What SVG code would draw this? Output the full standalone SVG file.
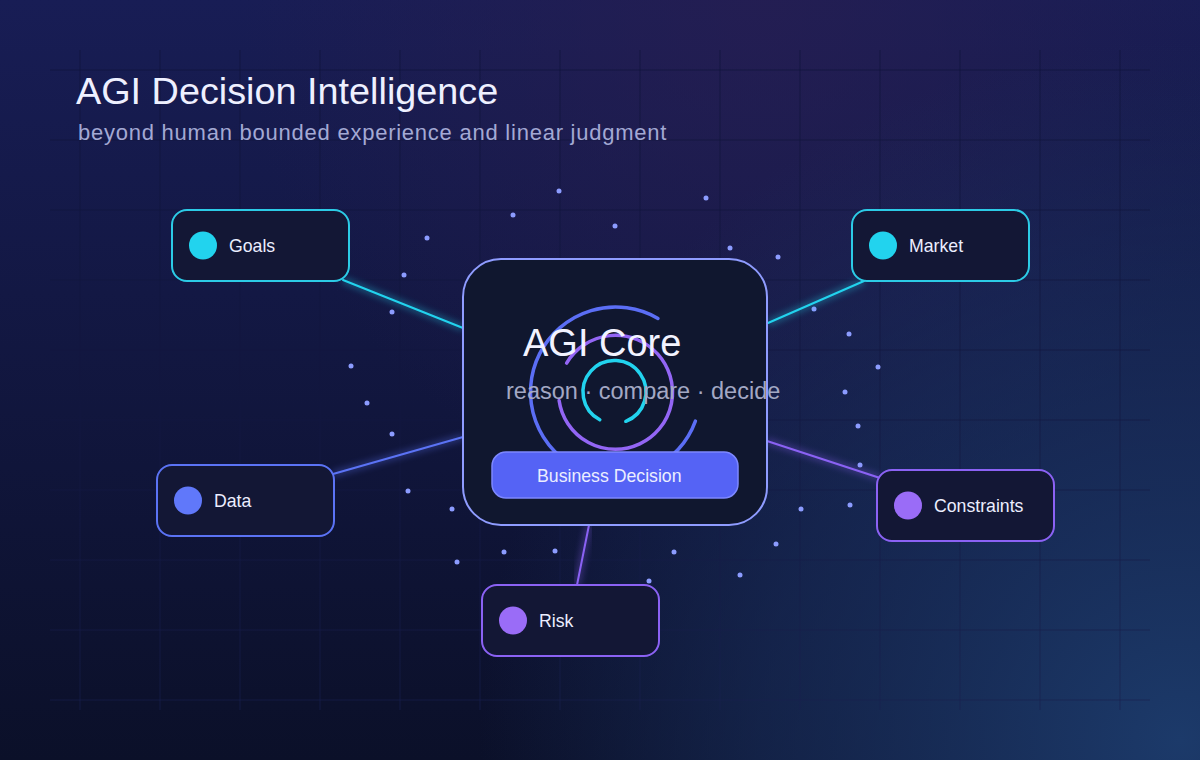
<svg xmlns="http://www.w3.org/2000/svg" width="1200" height="760" viewBox="0 0 1200 760">
  <defs>
    <linearGradient id="bgBase" x1="0" y1="0" x2="0" y2="1">
      <stop offset="0" stop-color="#181d55"/>
      <stop offset="1" stop-color="#0b1029"/>
    </linearGradient>
    <radialGradient id="glowTop" cx="760" cy="0" r="520" gradientUnits="userSpaceOnUse">
      <stop offset="0" stop-color="#271e52" stop-opacity="0.75"/>
      <stop offset="1" stop-color="#271e52" stop-opacity="0"/>
    </radialGradient>
    <radialGradient id="glowBR" cx="1180" cy="740" r="700" gradientUnits="userSpaceOnUse">
      <stop offset="0" stop-color="#1c3a6a" stop-opacity="1"/>
      <stop offset="0.6" stop-color="#1a3160" stop-opacity="0.55"/>
      <stop offset="1" stop-color="#1a3160" stop-opacity="0"/>
    </radialGradient>
    <linearGradient id="gridStroke" gradientUnits="userSpaceOnUse" x1="0" y1="0" x2="0" y2="760">
      <stop offset="0" stop-color="#0e1238"/>
      <stop offset="0.5" stop-color="#12173f"/>
      <stop offset="1" stop-color="#1a2250"/>
    </linearGradient>
    <filter id="blur" x="-20%" y="-20%" width="140%" height="140%">
      <feGaussianBlur stdDeviation="3"/>
    </filter>
    <style>
      .grid line { stroke: url(#gridStroke); stroke-width: 1; opacity: 0.65; }
      .node rect { fill: #131735; stroke-width: 2; }
      .lbl { font-family: "Liberation Sans", Arial, sans-serif; font-size: 17.7px; fill: #eceeff; }
      .dot { fill: #8c9cff; }
      .conn { fill: none; stroke-width: 2; stroke-linecap: round; }
      .connGlow { fill: none; stroke-width: 7; opacity: 0.3; filter: url(#blur); }
      .cyan { stroke: #22d3ee; }
      .blue { stroke: #5b73f5; }
      .purple { stroke: #8b62f4; }
    </style>
  </defs>

  <!-- background -->
  <rect x="0" y="0" width="1200" height="760" fill="url(#bgBase)"/>
  <rect x="0" y="0" width="1200" height="760" fill="url(#glowTop)"/>
  <rect x="0" y="0" width="1200" height="760" fill="url(#glowBR)"/>

  <!-- grid -->
  <g class="grid">
    <line x1="80" y1="50" x2="80" y2="710"/>
    <line x1="160" y1="50" x2="160" y2="710"/>
    <line x1="240" y1="50" x2="240" y2="710"/>
    <line x1="320" y1="50" x2="320" y2="710"/>
    <line x1="400" y1="50" x2="400" y2="710"/>
    <line x1="480" y1="50" x2="480" y2="710"/>
    <line x1="560" y1="50" x2="560" y2="710"/>
    <line x1="640" y1="50" x2="640" y2="710"/>
    <line x1="720" y1="50" x2="720" y2="710"/>
    <line x1="800" y1="50" x2="800" y2="710"/>
    <line x1="880" y1="50" x2="880" y2="710"/>
    <line x1="960" y1="50" x2="960" y2="710"/>
    <line x1="1040" y1="50" x2="1040" y2="710"/>
    <line x1="1120" y1="50" x2="1120" y2="710"/>
    <line x1="50" y1="70" x2="1150" y2="70"/>
    <line x1="50" y1="140" x2="1150" y2="140"/>
    <line x1="50" y1="210" x2="1150" y2="210"/>
    <line x1="50" y1="280" x2="1150" y2="280"/>
    <line x1="50" y1="350" x2="1150" y2="350"/>
    <line x1="50" y1="420" x2="1150" y2="420"/>
    <line x1="50" y1="490" x2="1150" y2="490"/>
    <line x1="50" y1="560" x2="1150" y2="560"/>
    <line x1="50" y1="630" x2="1150" y2="630"/>
    <line x1="50" y1="700" x2="1150" y2="700"/>
  </g>

  <!-- titles -->
  <text x="76" y="104" font-family="Liberation Sans, Arial, sans-serif" font-size="37.8" fill="#eef0ff">AGI Decision Intelligence</text>
  <text x="78" y="140" font-family="Liberation Sans, Arial, sans-serif" font-size="22" letter-spacing="0.76" fill="#a3a9d4">beyond human bounded experience and linear judgment</text>

  <!-- particles -->
  <g id="particles">
    <circle class="dot" cx="559" cy="191" r="2.5"/>
    <circle class="dot" cx="706" cy="198" r="2.5"/>
    <circle class="dot" cx="513" cy="215" r="2.5"/>
    <circle class="dot" cx="615" cy="226" r="2.5"/>
    <circle class="dot" cx="427" cy="238" r="2.5"/>
    <circle class="dot" cx="730" cy="248" r="2.5"/>
    <circle class="dot" cx="778" cy="257" r="2.5"/>
    <circle class="dot" cx="404" cy="275" r="2.5"/>
    <circle class="dot" cx="392" cy="312" r="2.5"/>
    <circle class="dot" cx="351" cy="366" r="2.5"/>
    <circle class="dot" cx="367" cy="403" r="2.5"/>
    <circle class="dot" cx="392" cy="434" r="2.5"/>
    <circle class="dot" cx="408" cy="491" r="2.5"/>
    <circle class="dot" cx="452" cy="509" r="2.5"/>
    <circle class="dot" cx="457" cy="562" r="2.5"/>
    <circle class="dot" cx="814" cy="309" r="2.5"/>
    <circle class="dot" cx="849" cy="334" r="2.5"/>
    <circle class="dot" cx="878" cy="367" r="2.5"/>
    <circle class="dot" cx="845" cy="392" r="2.5"/>
    <circle class="dot" cx="858" cy="426" r="2.5"/>
    <circle class="dot" cx="860" cy="465" r="2.5"/>
    <circle class="dot" cx="850" cy="505" r="2.5"/>
    <circle class="dot" cx="801" cy="509" r="2.5"/>
    <circle class="dot" cx="776" cy="544" r="2.5"/>
    <circle class="dot" cx="504" cy="552" r="2.5"/>
    <circle class="dot" cx="555" cy="551" r="2.5"/>
    <circle class="dot" cx="674" cy="552" r="2.5"/>
    <circle class="dot" cx="740" cy="575" r="2.5"/>
    <circle class="dot" cx="649" cy="581" r="2.5"/>
    <circle class="dot" cx="596" cy="596" r="2.5"/>
  </g>

  <!-- connectors -->
  <g id="connectors">
    <line class="connGlow cyan" x1="343" y1="280" x2="463" y2="328"/>
    <line class="conn cyan" x1="343" y1="280" x2="463" y2="328"/>
    <line class="connGlow cyan" x1="768" y1="323" x2="864" y2="281"/>
    <line class="conn cyan" x1="768" y1="323" x2="864" y2="281"/>
    <line class="connGlow blue" x1="333" y1="474" x2="463" y2="437"/>
    <line class="conn blue" x1="333" y1="474" x2="463" y2="437"/>
    <line class="connGlow purple" x1="767" y1="441" x2="880" y2="478"/>
    <line class="conn purple" x1="767" y1="441" x2="880" y2="478"/>
    <line class="connGlow purple" x1="589" y1="525" x2="577" y2="585"/>
    <line class="conn purple" x1="589" y1="525" x2="577" y2="585"/>
  </g>

  <!-- core -->
  <g id="core">
    <rect x="463" y="259" width="304" height="266" rx="38" fill="#10172f" stroke="#8f9cff" stroke-width="2"/>
    <path d="M 695.4 421.1 A 85 85 0 1 1 658 318.4" fill="none" stroke="#5b6ef5" stroke-width="3.5" stroke-linecap="round"/>
    <path d="M 566.6 363.1 A 57 57 0 1 1 559.1 400.4" fill="none" stroke="#9366f5" stroke-width="3.5" stroke-linecap="round"/>
    <path d="M 625.8 421.3 A 31.5 31.5 0 1 0 599.8 419.8" fill="none" stroke="#22d3ee" stroke-width="3.5" stroke-linecap="round"/>
    <text x="523" y="356" font-family="Liberation Sans, Arial, sans-serif" font-size="38" fill="#f2f3ff">AGI Core</text>
    <text x="506" y="399" font-family="Liberation Sans, Arial, sans-serif" font-size="23.5" fill="#a3a8c4">reason · compare · decide</text>
    <rect x="492" y="452" width="246" height="46" rx="14" fill="#5563f5" stroke="#7d88ff" stroke-width="1.5"/>
    <text x="537" y="482" class="lbl">Business Decision</text>
  </g>

  <!-- nodes -->
  <g id="node-goals" class="node">
    <rect x="172" y="210" width="177" height="71" rx="15" stroke="#2ccbe6"/>
    <circle cx="203" cy="245.5" r="14" fill="#22d3ee"/>
    <text x="229" y="252" class="lbl">Goals</text>
  </g>
  <g id="node-market" class="node">
    <rect x="852" y="210" width="177" height="71" rx="15" stroke="#2ccbe6"/>
    <circle cx="883" cy="245.5" r="14" fill="#22d3ee"/>
    <text x="909" y="252" class="lbl">Market</text>
  </g>
  <g id="node-data" class="node">
    <rect x="157" y="465" width="177" height="71" rx="15" stroke="#5b73f5"/>
    <circle cx="188" cy="500.5" r="14" fill="#6078fa"/>
    <text x="214" y="507" class="lbl">Data</text>
  </g>
  <g id="node-constraints" class="node">
    <rect x="877" y="470" width="177" height="71" rx="15" stroke="#8b62f4"/>
    <circle cx="908" cy="505.5" r="14" fill="#9a6cf7"/>
    <text x="934" y="512" class="lbl">Constraints</text>
  </g>
  <g id="node-risk" class="node">
    <rect x="482" y="585" width="177" height="71" rx="15" stroke="#8b62f4"/>
    <circle cx="513" cy="620.5" r="14" fill="#9a6cf7"/>
    <text x="539" y="627" class="lbl">Risk</text>
  </g>
</svg>
